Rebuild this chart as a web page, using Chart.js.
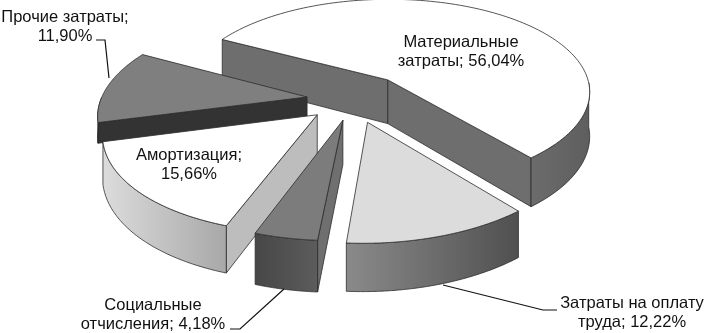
<!DOCTYPE html>
<html lang="ru">
<head>
<meta charset="utf-8">
<title>Структура затрат</title>
<script src="https://cdn.jsdelivr.net/npm/chart.js@4"></script>
<style>
    html, body { margin: 0; padding: 0; background: #fff; }
    canvas { display: block; }
</style>
</head>
<body>
<canvas id="costs" width="707" height="333"></canvas>
<script>
const categories = ['Материальные затраты', 'Затраты на оплату труда', 'Социальные отчисления', 'Амортизация', 'Прочие затраты'];
const shares = [56.04, 12.22, 4.18, 15.66, 11.90];
const firstLineWords = [1, 3, 1, 1, 2];

// slice looks, same order as the categories
const explode = [39, 35, 31, 33, 33];
const depths = [45, 40, 43, 40, 20];
const topColors = ['#ffffff', '#dcdcdc', '#7c7c7c', '#ffffff', '#7f7f7f'];
const sideFrom = ['#6c6c6c', '#8a8a8a', '#474747', '#dcdcdc', '#333333'];
const sideTo = ['#5e5e5e', '#505050', '#5c5c5c', '#a8a8a8', '#333333'];
const cutColors = ['#6e6e6e', '#8a8a8a', '#6f6f6f', '#bdbdbd', '#333333'];
const labelAt = [[461, 42], [632, 303], [153, 305], [189, 155], [65, 17]];
const leaders = [
    null,
    [[557, 310], [543, 310], [443, 285]],
    [[230, 329], [240, 329], [284, 289]],
    null,
    [[96, 40], [105, 40], [109, 78]]
];
const drawOrder = [0, 4, 3, 2, 1];

// flat pie -> tilted view with some perspective
const view = { cx: 353, cy: 99.5, a: 206, b: 97, p: 0.14, shear: 0.03 };

function project(x, y, drop) {
    const w = 1 - view.p * y;
    return [view.cx + (x - view.shear * y) * view.a / w, view.cy + (y * view.b + (drop || 0)) / w];
}

function tracePath(ctx, pts) {
    ctx.beginPath();
    pts.forEach((pt, i) => i ? ctx.lineTo(pt[0], pt[1]) : ctx.moveTo(pt[0], pt[1]));
    ctx.closePath();
}

function drawFace(ctx, pts, fill) {
    tracePath(ctx, pts);
    ctx.fillStyle = fill;
    ctx.fill();
    ctx.lineWidth = 0.8;
    ctx.strokeStyle = '#2b2b2b';
    ctx.stroke();
}

function drawSlice(ctx, arc, i) {
    const r = arc.outerRadius;
    const start = arc.startAngle;
    const end = arc.endAngle;
    const mid = (start + end) / 2;
    const off = explode[i] / r;
    const ox = Math.cos(mid) * off;
    const oy = Math.sin(mid) * off;
    const depth = depths[i];
    const rim = (a, drop) => project(ox + Math.cos(a), oy + Math.sin(a), drop);
    const apex = project(ox, oy, 0);
    const apexLow = project(ox, oy, depth);

    // cut faces, only the ones turned to the viewer
    [[start, start + 0.05], [end, end - 0.05]].forEach(([edge, inner]) => {
        const tip = rim(edge, 0);
        const ex = tip[0] - apex[0];
        const ey = tip[1] - apex[1];
        const ip = rim(inner, 0);
        const side = ex * (ip[1] - apex[1]) - ey * (ip[0] - apex[0]);
        if (ex * side < 0) {
            drawFace(ctx, [apex, tip, rim(edge, depth), apexLow], cutColors[i]);
        }
    });

    // outer wall
    const angles = [];
    for (let k = 0; k <= 80; k++) {
        const a = start + (end - start) * k / 80;
        if (Math.sin(a) >= 0) angles.push(a);
    }
    if (angles.length > 1) {
        const upper = angles.map(a => rim(a, 0));
        const lower = angles.map(a => rim(a, depth)).reverse();
        const xs = upper.map(pt => pt[0]);
        const grad = ctx.createLinearGradient(Math.min(...xs), 0, Math.max(...xs), 0);
        // gradient runs left to right on screen
        grad.addColorStop(0, sideFrom[i]);
        grad.addColorStop(1, sideTo[i]);
        drawFace(ctx, upper.concat(lower), grad);
    }

    // top
    const top = [apex];
    for (let k = 0; k <= 120; k++) {
        top.push(rim(start + (end - start) * k / 120, 0));
    }
    drawFace(ctx, top, topColors[i]);
}

const tiltedPie = {
    id: 'tiltedPie',
    beforeDatasetDraw(chart) {
        const ctx = chart.ctx;
        const arcs = chart.getDatasetMeta(0).data;
        ctx.save();
        ctx.lineJoin = 'round';
        drawOrder.forEach(i => drawSlice(ctx, arcs[i], i));
        ctx.restore();
        return false;
    },
    afterDraw(chart) {
        const ctx = chart.ctx;
        ctx.save();
        ctx.strokeStyle = '#111';
        ctx.lineWidth = 1.2;
        leaders.forEach(line => {
            if (!line) return;
            ctx.beginPath();
            line.forEach((pt, i) => i ? ctx.lineTo(pt[0], pt[1]) : ctx.moveTo(pt[0], pt[1]));
            ctx.stroke();
        });
        ctx.fillStyle = '#111';
        ctx.font = '16.5px "Liberation Sans"';
        ctx.textAlign = 'center';
        ctx.textBaseline = 'middle';
        categories.forEach((name, i) => {
            const pct = shares[i].toFixed(2).replace('.', ',') + '%';
            const words = (name + '; ' + pct).split(' ');
            const n = firstLineWords[i];
            ctx.fillText(words.slice(0, n).join(' '), labelAt[i][0], labelAt[i][1]);
            ctx.fillText(words.slice(n).join(' '), labelAt[i][0], labelAt[i][1] + 19);
        });
        ctx.restore();
    }
};

new Chart(document.getElementById('costs'), {
    type: 'pie',
    data: {
        labels: categories,
        datasets: [{
            data: shares,
            offset: explode,
            backgroundColor: topColors,
        }]
    },
    plugins: [tiltedPie],
    options: {
        responsive: false,
        animation: false,
        rotation: 298,
        plugins: {
            legend: { display: false },
            tooltip: { enabled: false }
        }
    }
});
</script>
</body>
</html>
